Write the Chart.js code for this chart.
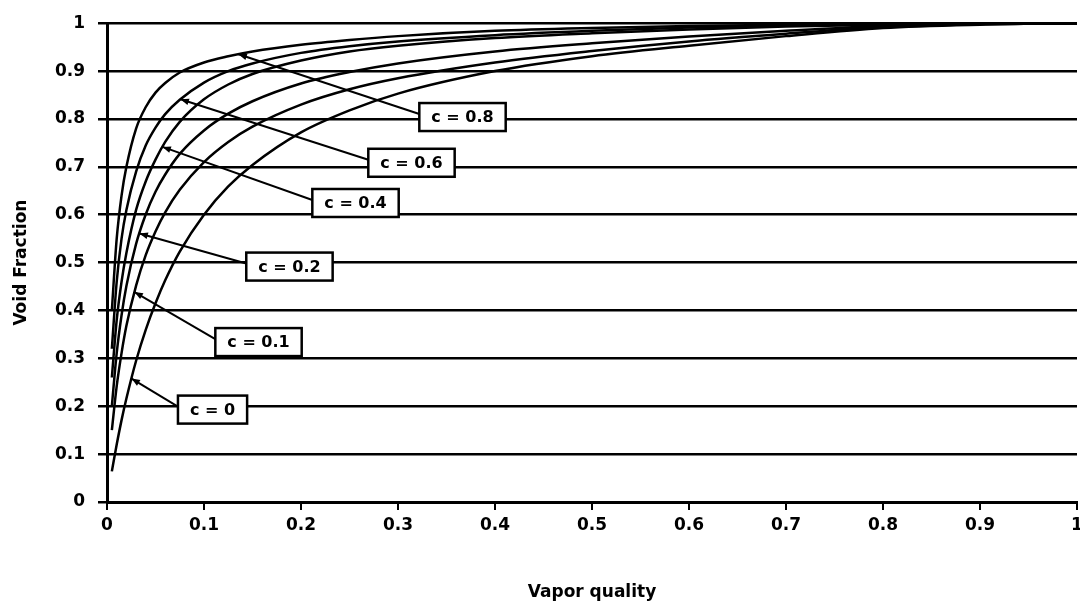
<!DOCTYPE html>
<html>
<head>
<meta charset="utf-8">
<script src="https://cdn.jsdelivr.net/npm/chart.js@4.4.1/dist/chart.umd.min.js"></script>
<style>
  html, body { margin: 0; padding: 0; background: #fff; }
</style>
</head>
<body>
<canvas id="voidChart" width="1080" height="607"></canvas>
<script>
// vapor quality steps shared by all curves
const quality = [0.005, 0.01, 0.015, 0.02, 0.03, 0.04, 0.05, 0.06, 0.075, 0.1, 0.125, 0.15,
                 0.2, 0.25, 0.3, 0.4, 0.5, 0.6, 0.7, 0.8, 0.9, 1];

// void fraction for each value of c
const voidC0  = [0.064, 0.12, 0.171, 0.216, 0.295, 0.36, 0.415, 0.463, 0.523, 0.60, 0.659, 0.704,
                 0.772, 0.818, 0.853, 0.90, 0.931, 0.953, 0.973, 0.99, 0.997, 1];
const voidC01 = [0.15, 0.242, 0.311, 0.368, 0.452, 0.516, 0.565, 0.605, 0.652, 0.71, 0.752, 0.784,
                 0.83, 0.862, 0.885, 0.918, 0.942, 0.962, 0.978, 0.992, 0.998, 1];
const voidC02 = [0.2, 0.311, 0.39, 0.451, 0.539, 0.601, 0.648, 0.684, 0.727, 0.776, 0.811, 0.837,
                 0.874, 0.898, 0.916, 0.941, 0.958, 0.972, 0.984, 0.994, 0.999, 1];
const voidC04 = [0.26, 0.38, 0.46, 0.52, 0.61, 0.67, 0.715, 0.752, 0.794, 0.841, 0.872, 0.894,
                 0.922, 0.941, 0.953, 0.969, 0.979, 0.987, 0.993, 0.997, 1, 1];
const voidC06 = [0.32, 0.46, 0.55, 0.61, 0.69, 0.745, 0.782, 0.81, 0.84, 0.876, 0.90, 0.916,
                 0.938, 0.952, 0.962, 0.975, 0.984, 0.991, 0.995, 0.998, 1, 1];
const voidC08 = [0.40, 0.55, 0.64, 0.70, 0.78, 0.825, 0.855, 0.875, 0.897, 0.918, 0.931, 0.941,
                 0.955, 0.965, 0.973, 0.984, 0.99, 0.994, 0.997, 0.999, 1, 1];

const curveLabels = ['c = 0', 'c = 0.1', 'c = 0.2', 'c = 0.4', 'c = 0.6', 'c = 0.8'];
// quality where each label's arrow touches its curve
const arrowTipX = [0.0253, 0.0284, 0.0335, 0.0572, 0.0758, 0.1356];
// centre of each label box, in axis units
const boxX = [0.1088, 0.1562, 0.1881, 0.2562, 0.3139, 0.3665];
const boxY = [0.193, 0.334, 0.4917, 0.6245, 0.7085, 0.804];

const series = [voidC0, voidC01, voidC02, voidC04, voidC06, voidC08];

const FONT = '"DejaVu Sans", sans-serif';

// linear lookup of a curve at quality q
function valueAt(values, q) {
  for (let i = 1; i < quality.length; i++) {
    if (q <= quality[i]) {
      const t = (q - quality[i - 1]) / (quality[i] - quality[i - 1]);
      return values[i - 1] + t * (values[i] - values[i - 1]);
    }
  }
  return values[values.length - 1];
}

const callouts = {
  id: 'callouts',
  afterDatasetsDraw(chart) {
    const { ctx, scales: { x, y } } = chart;
    ctx.save();
    ctx.font = 'bold 16px ' + FONT;
    ctx.strokeStyle = '#000';
    ctx.fillStyle = '#000';
    curveLabels.forEach((text, i) => {
      const px = x.getPixelForValue(arrowTipX[i]);
      const py = y.getPixelForValue(valueAt(series[i], arrowTipX[i]));
      const bx = x.getPixelForValue(boxX[i]);
      const by = y.getPixelForValue(boxY[i]);
      const w = ctx.measureText(text).width + 24;
      const h = 28;
      const ex = bx - w / 2, ey = by - 3;

      ctx.lineWidth = 2;
      ctx.beginPath();
      ctx.moveTo(ex, ey);
      ctx.lineTo(px, py);
      ctx.stroke();

      const ang = Math.atan2(py - ey, px - ex);
      ctx.beginPath();
      ctx.moveTo(px, py);
      ctx.lineTo(px - 9 * Math.cos(ang - 0.38), py - 9 * Math.sin(ang - 0.38));
      ctx.lineTo(px - 9 * Math.cos(ang + 0.38), py - 9 * Math.sin(ang + 0.38));
      ctx.closePath();
      ctx.fill();

      ctx.fillStyle = '#fff';
      ctx.fillRect(bx - w / 2, by - h / 2, w, h);
      ctx.lineWidth = 2.5;
      ctx.strokeRect(bx - w / 2, by - h / 2, w, h);
      ctx.fillStyle = '#000';
      ctx.textAlign = 'center';
      ctx.textBaseline = 'middle';
      ctx.fillText(text, bx, by + 1);
    });
    ctx.restore();
  }
};

const fmt = v => String(Number(v.toFixed(1)));

new Chart(document.getElementById('voidChart'), {
  type: 'scatter',
  data: {
    datasets: series.map((vals, i) => ({
      label: curveLabels[i],
      data: quality.map((q, j) => ({ x: q, y: vals[j] })),
      showLine: true,
      borderColor: '#000',
      borderWidth: 2.5,
      pointRadius: 0,
      cubicInterpolationMode: 'monotone'
    }))
  },
  options: {
    responsive: false,
    animation: false,
    devicePixelRatio: 1,
    layout: { padding: { top: 20, right: 3, left: 0, bottom: 0 } },
    plugins: { legend: { display: false }, tooltip: { enabled: false } },
    scales: {
      x: {
        type: 'linear', min: 0, max: 1,
        ticks: { stepSize: 0.1, callback: fmt, autoSkip: false, maxRotation: 0, padding: 5,
                 color: '#000', font: { family: FONT, size: 17, weight: 'bold' } },
        grid: { drawOnChartArea: false, drawTicks: true, tickLength: 8, color: '#000', lineWidth: 2 },
        border: { display: true, color: '#000', width: 3 },
        title: { display: true, text: 'Vapor quality', color: '#000', padding: { top: 0, bottom: 4 },
                 font: { family: FONT, size: 17, weight: 'bold' } },
        afterFit(s) { s.height = 105; s.paddingRight = 0; s.paddingLeft = 0; }
      },
      y: {
        min: 0, max: 1,
        ticks: { stepSize: 0.1, callback: fmt, padding: 13,
                 color: '#000', font: { family: FONT, size: 17, weight: 'bold' } },
        grid: { color: '#000', lineWidth: 2.5, tickLength: 9 },
        border: { display: true, color: '#000', width: 3 },
        title: { display: true, text: 'Void Fraction', color: '#000', padding: { top: 11, bottom: 0 },
                 font: { family: FONT, size: 17, weight: 'bold' } },
        afterFit(s) { s.width = 107; }
      }
    }
  },
  plugins: [callouts]
});
</script>
</body>
</html>
